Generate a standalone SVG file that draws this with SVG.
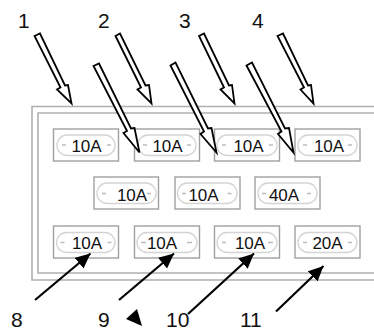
<svg xmlns="http://www.w3.org/2000/svg" width="374" height="332" viewBox="0 0 374 332">
<defs>
<marker id="solid" markerUnits="userSpaceOnUse" markerWidth="16" markerHeight="15" refX="15" refY="7" orient="auto"><path d="M0 0L15 7L0 14Z" fill="#000"/></marker>
</defs>
<style>
text{font-family:"Liberation Sans",Arial,sans-serif;fill:#111}
.num{font-size:21px}
.fuse rect{fill:#fff;stroke:#a0a0a0;stroke-width:1.4}
.fuse .pill{fill:#fff;stroke:#d4d4d4;stroke-width:1.3}
.fuse text{font-size:17px;text-anchor:middle}
.fuse .dash{stroke:#bbb;stroke-width:1.3;fill:none}
.frame{fill:none;stroke:#b0b0b0;stroke-width:1.6}
.hollow{fill:#fff;stroke:#000;stroke-width:1.8;stroke-linejoin:miter}
.solid{stroke:#000;stroke-width:2.2;fill:none;marker-end:url(#solid)}
</style>
<g id="frame"><path class="frame" d="M374 106.500H32V280H374"/><path class="frame" d="M374 113H38V273H374"/></g>
<g id="fuse-r1c1" class="fuse"><rect x="53.500" y="129" width="65" height="32"/><rect class="pill" x="57" y="135" width="58" height="20.500" rx="10"/><path class="dash" d="M62 145h4M107 145h4"/><text x="86.500" y="151.500">10A</text></g>
<g id="fuse-r1c2" class="fuse"><rect x="134.500" y="129" width="65" height="32"/><rect class="pill" x="138" y="135" width="58" height="20.500" rx="10"/><path class="dash" d="M143 145h4M187 145h4"/><text x="167.500" y="151.500">10A</text></g>
<g id="fuse-r1c3" class="fuse"><rect x="214.500" y="129" width="65" height="32"/><rect class="pill" x="217" y="135" width="60" height="20.500" rx="10"/><path class="dash" d="M222 145h4M269 145h4"/><text x="248.500" y="151.500">10A</text></g>
<g id="fuse-r1c4" class="fuse"><rect x="295" y="129" width="65" height="32"/><rect class="pill" x="298" y="135" width="59" height="20.500" rx="10"/><path class="dash" d="M303 145h4M348 145h4"/><text x="329" y="151.500">10A</text></g>
<g id="fuse-r2c1" class="fuse"><rect x="94" y="177" width="64.500" height="32"/><rect class="pill" x="97" y="183" width="59" height="20.500" rx="10"/><path class="dash" d="M102 193.500h4M147 193.500h4"/><text x="132" y="200.500">10A</text></g>
<g id="fuse-r2c2" class="fuse"><rect x="175" y="177" width="65" height="32"/><rect class="pill" x="177.500" y="183" width="59.500" height="20.500" rx="10"/><path class="dash" d="M182 193.500h4M227.500 193.500h4"/><text x="203.500" y="200.500">10A</text></g>
<g id="fuse-r2c3" class="fuse"><rect x="255" y="177" width="65" height="32"/><rect class="pill" x="258" y="183" width="59" height="20.500" rx="10"/><path class="dash" d="M262 193.500h4M307 193.500h4"/><text x="284" y="200.500">40A</text></g>
<g id="fuse-r3c1" class="fuse"><rect x="53.500" y="226" width="65" height="32"/><rect class="pill" x="56.500" y="232.500" width="58.500" height="20" rx="10"/><path class="dash" d="M60.500 242.500h4M107.500 242.500h4"/><text x="87" y="248.500">10A</text></g>
<g id="fuse-r3c2" class="fuse"><rect x="134.500" y="226" width="65" height="32"/><rect class="pill" x="137" y="232.500" width="60" height="20" rx="10"/><path class="dash" d="M141 242.500h5M187 242.500h5"/><text x="162" y="248.500">10A</text></g>
<g id="fuse-r3c3" class="fuse"><rect x="214.500" y="226" width="65" height="32"/><rect class="pill" x="217" y="232.500" width="60" height="20" rx="10"/><path class="dash" d="M222 242.500h4M268 242.500h5"/><text x="250" y="248.500">10A</text></g>
<g id="fuse-r3c4" class="fuse"><rect x="295" y="226" width="65" height="32"/><rect class="pill" x="298" y="232.500" width="59" height="20" rx="10"/><path class="dash" d="M303 242.500h4M348 242.500h4"/><text x="327.500" y="248.500">20A</text></g>
<g id="connectors">
<path class="hollow" d="M34.500 36L40 33.500L65 85.500L68 85L71.500 103.500L57 89.500L60.500 87.500Z"/>
<path class="hollow" d="M115.500 36L120 33.500L145.500 85.500L149 85L151.500 103.500L137.500 89.500L141 87.500Z"/>
<path class="hollow" d="M199 36L204 33.500L229 85.500L232 85L234.500 103.500L220.500 89.500L224 87.500Z"/>
<path class="hollow" d="M277.500 36L283 33.500L308 85.500L311 85L313.500 103.500L300.500 89.500L304 87.500Z"/>
<path class="hollow" d="M93.500 66L99 63.500L131 128.500L134.500 128L139.500 152.500L123.500 133L127 131Z"/>
<path class="hollow" d="M170.500 65.500L175.500 62.500L208 128.500L211.500 128L216.500 152.500L200.500 134L204 131.500Z"/>
<path class="hollow" d="M246.500 65.500L252 62.500L285 128.500L289 128L293.500 152.500L278 134L281.500 131.500Z"/>
<path class="solid" d="M35 300L90.500 253.500"/>
<path class="solid" d="M119 300L174 253.500"/>
<path class="solid" d="M188 314L254 253.500"/>
<path class="solid" d="M276 311.500L323.500 266"/>
</g>
<path id="stray-triangle" d="M126 319L137 309L142 326Z" fill="#000"/>
<g id="labels">
<text class="num" x="18" y="28">1</text><text class="num" x="98" y="28">2</text><text class="num" x="179" y="28">3</text><text class="num" x="252" y="28">4</text>
<text class="num" x="11" y="326.500">8</text><text class="num" x="98" y="326.500">9</text><text class="num" x="166" y="326.500">10</text><text class="num" x="240" y="326.500">11</text>
</g>
</svg>
